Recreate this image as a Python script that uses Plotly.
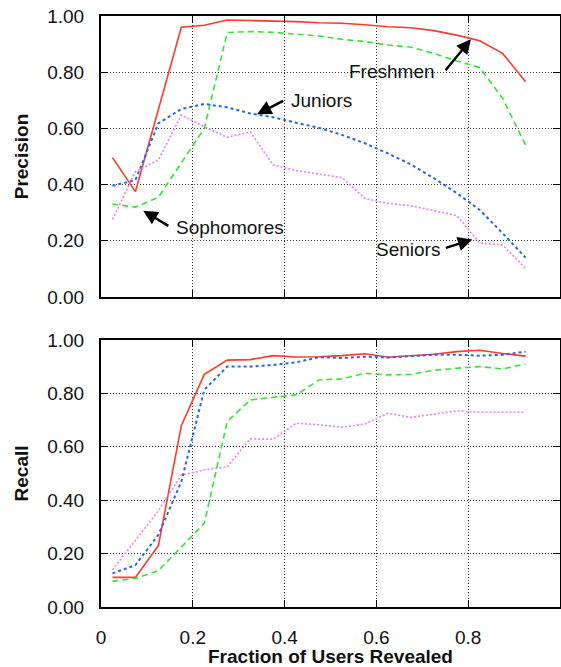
import plotly.graph_objects as go
from plotly.subplots import make_subplots

fraction = [0.025, 0.075, 0.125, 0.175, 0.225, 0.275, 0.325, 0.375, 0.425, 0.475,
            0.525, 0.575, 0.625, 0.675, 0.725, 0.775, 0.825, 0.875, 0.925]

prec_freshmen = [0.496, 0.375, 0.667, 0.960, 0.967, 0.986, 0.984, 0.983, 0.980, 0.976,
                 0.974, 0.969, 0.962, 0.958, 0.948, 0.932, 0.912, 0.867, 0.766]
prec_sophomores = [0.331, 0.320, 0.355, 0.477, 0.600, 0.941, 0.945, 0.942, 0.936, 0.929,
                   0.917, 0.909, 0.897, 0.889, 0.867, 0.840, 0.817, 0.707, 0.541]
prec_juniors = [0.396, 0.416, 0.618, 0.669, 0.687, 0.675, 0.653, 0.640, 0.620, 0.602,
                0.577, 0.547, 0.511, 0.472, 0.423, 0.370, 0.310, 0.227, 0.140]
prec_seniors = [0.276, 0.446, 0.488, 0.648, 0.606, 0.568, 0.588, 0.470, 0.450, 0.438,
                0.425, 0.351, 0.333, 0.325, 0.308, 0.290, 0.192, 0.185, 0.102]

rec_freshmen = [0.111, 0.111, 0.230, 0.679, 0.871, 0.924, 0.926, 0.941, 0.936, 0.937,
                0.941, 0.948, 0.935, 0.941, 0.946, 0.956, 0.961, 0.949, 0.939]
rec_sophomores = [0.097, 0.107, 0.136, 0.225, 0.313, 0.694, 0.775, 0.785, 0.794, 0.850,
                  0.854, 0.875, 0.869, 0.871, 0.886, 0.894, 0.900, 0.891, 0.910]
rec_juniors = [0.126, 0.157, 0.270, 0.469, 0.813, 0.900, 0.900, 0.906, 0.916, 0.935,
               0.932, 0.937, 0.934, 0.940, 0.944, 0.944, 0.941, 0.944, 0.956]
rec_seniors = [0.139, 0.250, 0.360, 0.494, 0.513, 0.525, 0.629, 0.628, 0.688, 0.682,
               0.673, 0.685, 0.725, 0.710, 0.723, 0.734, 0.729, 0.729, 0.729]

x_tickvals = [0, 0.2, 0.4, 0.6, 0.8, 1.0]
x_ticktext = ["0", "0.2", "0.4", "0.6", "0.8", "1"]
y_tickvals = [0, 0.2, 0.4, 0.6, 0.8, 1.0]

series = [
    ("Freshmen", dict(color="#ff3a2a", width=1.6, dash="solid")),
    ("Sophomores", dict(color="#33e633", width=1.6, dash="6px,4px")),
    ("Juniors", dict(color="#2266ee", width=2.0, dash="3px,3px")),
    ("Seniors", dict(color="#f07cf0", width=1.6, dash="2px,2px")),
]
prec = {"Freshmen": prec_freshmen, "Sophomores": prec_sophomores,
        "Juniors": prec_juniors, "Seniors": prec_seniors}
rec = {"Freshmen": rec_freshmen, "Sophomores": rec_sophomores,
       "Juniors": rec_juniors, "Seniors": rec_seniors}

FONT = "Liberation Sans, Arial, Helvetica, sans-serif"

fig = make_subplots(rows=2, cols=1, shared_xaxes=False, vertical_spacing=0.07)
for name, line in series:
    fig.add_trace(go.Scatter(x=fraction, y=prec[name], mode="lines", name=name,
                             line=line, showlegend=False), row=1, col=1)
for name, line in series:
    fig.add_trace(go.Scatter(x=fraction, y=rec[name], mode="lines", name=name,
                             line=line, showlegend=False), row=2, col=1)

axis_common = dict(
    range=[0, 1], showline=True, linecolor="black", linewidth=2, mirror="ticks",
    ticks="inside", ticklen=7, tickwidth=1, tickcolor="black",
    showgrid=True, gridcolor="#333333", gridwidth=1, griddash="1px,2px",
    zeroline=False, tickfont=dict(family=FONT, size=19, color="#111"),
)

fig.update_xaxes(**axis_common, tickvals=x_tickvals, ticktext=x_ticktext)
fig.update_xaxes(showticklabels=False, row=1, col=1)
fig.update_xaxes(ticklabelstandoff=12, row=2, col=1,
                 title=dict(text="<b>Fraction of Users Revealed</b>",
                            font=dict(family=FONT, size=19, color="#111"), standoff=6))
fig.update_yaxes(**axis_common, tickvals=y_tickvals, tickformat=".2f", ticklabelstandoff=11)
fig.update_yaxes(row=1, col=1, domain=[0.5245, 1.0],
                 title=dict(text="<b>Precision</b>", font=dict(family=FONT, size=19, color="#111"),
                            standoff=14))
fig.update_yaxes(row=2, col=1, domain=[0.0, 0.452],
                 title=dict(text="<b>Recall</b>", font=dict(family=FONT, size=19, color="#111"),
                            standoff=14))

# Arrows (text-less annotations): head at (x, y), tail at (ax, ay)
arrows = [
    (0.806, 0.917, 0.748, 0.802),
    (0.340, 0.650, 0.400, 0.701),
    (0.092, 0.307, 0.150, 0.250),
    (0.809, 0.205, 0.748, 0.173),
]
for hx, hy, tx, ty in arrows:
    fig.add_annotation(x=hx, y=hy, ax=tx, ay=ty, xref="x", yref="y", axref="x", ayref="y",
                       text="", showarrow=True, arrowhead=2, arrowsize=1.2, arrowwidth=2.4,
                       arrowcolor="black")

labels = [
    ("Freshmen", 0.635, 0.802, "center"),
    ("Juniors", 0.409, 0.700, "left"),
    ("Sophomores", 0.160, 0.247, "left"),
    ("Seniors", 0.743, 0.170, "right"),
]
for txt, lx, ly, anchor in labels:
    fig.add_annotation(x=lx, y=ly, xref="x", yref="y", text=txt, showarrow=False,
                       xanchor=anchor, yanchor="middle",
                       font=dict(family=FONT, size=19, color="#111"))

fig.update_layout(
    width=561, height=667,
    margin=dict(l=101, r=1, t=16, b=60, autoexpand=False),
    plot_bgcolor="white", paper_bgcolor="white",
    font=dict(family=FONT, size=19, color="#111"),
)

fig.write_html("out.html", config={"displayModeBar": False},
               post_script="document.body.style.margin='0px';document.body.style.overflow='hidden';")
